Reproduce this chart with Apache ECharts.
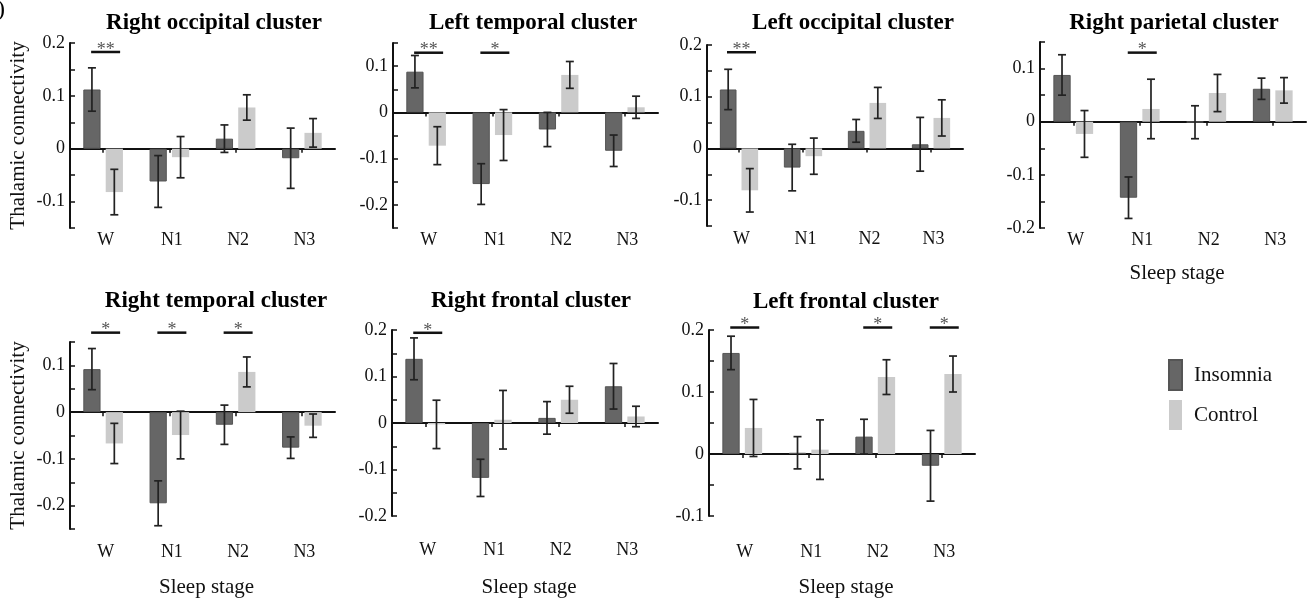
<!DOCTYPE html>
<html>
<head>
<meta charset="utf-8">
<script src="https://cdn.jsdelivr.net/npm/echarts@6/dist/echarts.min.js"></script>
<style>html,body{margin:0;padding:0;background:#fff}#c{width:1311px;height:599px}</style>
</head>
<body>
<div id="c"></div>
<script>
const categories = ['W', 'N1', 'N2', 'N3'];
const panelTitles = ['Right occipital cluster', 'Left temporal cluster', 'Left occipital cluster', 'Right parietal cluster',
  'Right temporal cluster', 'Right frontal cluster', 'Left frontal cluster'];
const seriesNames = ['Insomnia', 'Control'];
const insomniaMean = [
  [0.112, -0.062, 0.019, -0.018],
  [0.088, -0.155, -0.037, -0.083],
  [0.114, -0.037, 0.034, 0.008],
  [0.088, -0.143, -0.001, 0.062],
  [0.092, -0.195, -0.027, -0.076],
  [0.138, -0.118, 0.011, 0.079],
  [0.163, 0.002, 0.028, -0.019]
];
const insomniaErr = [
  [0.041, 0.049, 0.026, 0.057],
  [0.035, 0.044, 0.037, 0.034],
  [0.039, 0.045, 0.022, 0.052],
  [0.038, 0.039, 0.031, 0.020],
  [0.044, 0.048, 0.042, 0.023],
  [0.045, 0.040, 0.035, 0.049],
  [0.027, 0.026, 0.028, 0.057]
];
const controlMean = [
  [-0.082, -0.016, 0.078, 0.030],
  [-0.072, -0.049, 0.081, 0.011],
  [-0.081, -0.015, 0.088, 0.059],
  [-0.023, 0.024, 0.054, 0.059],
  [-0.067, -0.049, 0.086, -0.029],
  [-0.003, 0.007, 0.050, 0.014],
  [0.042, 0.007, 0.124, 0.129]
];
const controlErr = [
  [0.043, 0.039, 0.024, 0.027],
  [0.041, 0.055, 0.029, 0.024],
  [0.042, 0.035, 0.030, 0.035],
  [0.044, 0.056, 0.035, 0.024],
  [0.043, 0.051, 0.032, 0.025],
  [0.052, 0.063, 0.029, 0.022],
  [0.046, 0.048, 0.028, 0.029]
];
const yMin = [-0.15, -0.25, -0.15, -0.2, -0.25, -0.2, -0.1];
const yMax = [0.2, 0.15, 0.2, 0.15, 0.15, 0.2, 0.2];
// significance markers: [panel, category index, label, value level]
const sigMarks = [
  [0, 0, '**', 0.183],
  [1, 0, '**', 0.129], [1, 1, '*', 0.129],
  [2, 0, '**', 0.186],
  [3, 1, '*', 0.130],
  [4, 0, '*', 0.170], [4, 1, '*', 0.170], [4, 2, '*', 0.170],
  [5, 0, '*', 0.194],
  [6, 0, '*', 0.204], [6, 2, '*', 0.204], [6, 3, '*', 0.204]
];
const yAxisTitle = 'Thalamic connectivity';
const xAxisTitle = 'Sleep stage';

// layout (pixels)
const layout = [
  {left: 70, top: 43, width: 265, height: 185, lm: 3, yName: true, xName: false, tx: 214, ty: 23},
  {left: 393, top: 43, width: 265, height: 185, lm: 3, yName: false, xName: false, tx: 533, ty: 23},
  {left: 707, top: 45, width: 256, height: 181, lm: 4, yName: false, xName: false, tx: 853, ty: 23},
  {left: 1040, top: 42, width: 266, height: 186, lm: 3, yName: false, xName: true, ng: 35, tx: 1174, ty: 23},
  {left: 70, top: 342, width: 265, height: 187, lm: 14, yName: true, xName: true, ng: 48, tx: 216, ty: 301},
  {left: 392, top: 330, width: 266, height: 186, lm: 25, yName: false, xName: true, ng: 61, tx: 531, ty: 301},
  {left: 709, top: 330, width: 266, height: 186, lm: 27, yName: false, xName: true, ng: 61, tx: 846, ty: 302}
];

const FONT = '"Liberation Serif", "Times New Roman", serif';
const DARK = '#666666';
const LIGHT = '#cbcbcb';
const BAR_OFF = 0.169;

function yFmt(v) {
  const r = Math.round(v * 100);
  if (r % 10 !== 0) return '';
  return String(r / 100 === 0 ? 0 : r / 100);
}

function errRender(sign) {
  return function (params, api) {
    const i = api.value(0), m = api.value(1), e = api.value(2);
    const bw = api.size([1, 0])[0];
    const x = api.coord([i, m])[0] + sign * bw * BAR_OFF;
    const top = api.coord([i, m + e])[1];
    const bot = api.coord([i, m - e])[1];
    const cap = 4;
    const st = {stroke: '#222', lineWidth: 1.7};
    return {
      type: 'group', children: [
        {type: 'line', shape: {x1: x, y1: top, x2: x, y2: bot}, style: st},
        {type: 'line', shape: {x1: x - cap, y1: top, x2: x + cap, y2: top}, style: st},
        {type: 'line', shape: {x1: x - cap, y1: bot, x2: x + cap, y2: bot}, style: st}
      ]
    };
  };
}

function sigRender(params, api) {
  const i = api.value(0), y = api.value(1);
  const p = api.coord([i, y]);
  const x0 = p[0] - 12, x1 = p[0] + 17;
  return {
    type: 'group', children: [
      {type: 'line', shape: {x1: x0, y1: p[1], x2: x1, y2: p[1]}, style: {stroke: '#111', lineWidth: 2.5}},
      {type: 'text', x: (x0 + x1) / 2, y: p[1] + 7,
        style: {text: api.value(2), font: '18px ' + FONT, fill: '#555', align: 'center', verticalAlign: 'bottom'}}
    ]
  };
}

const grids = [], xAxes = [], yAxes = [], series = [], graphics = [];
layout.forEach((L, p) => {
  grids.push({left: L.left, top: L.top, width: L.width, height: L.height, containLabel: false});
  xAxes.push({
    type: 'category', gridIndex: p, data: categories, position: 'bottom',
    axisLine: {show: false, onZero: false}, axisTick: {show: false},
    axisLabel: {margin: L.lm, fontSize: 18, fontFamily: FONT, color: '#111', padding: [0, 0, 0, 5]},
    name: L.xName ? xAxisTitle : '', nameLocation: 'middle', nameGap: L.ng || 30,
    nameTextStyle: {fontSize: 21, fontFamily: FONT, color: '#111', padding: [0, 0, 0, 8]}
  });
  xAxes.push({
    type: 'category', gridIndex: p, data: categories, position: 'bottom',
    axisLine: {show: true, onZero: true, onZeroAxisIndex: p, lineStyle: {color: '#111', width: 2}},
    axisTick: {show: true, alignWithLabel: true, length: 4, lineStyle: {color: '#111', width: 1.5}},
    axisLabel: {show: false}
  });
  yAxes.push({
    type: 'value', gridIndex: p, min: yMin[p], max: yMax[p], interval: 0.05,
    axisLine: {show: true, lineStyle: {color: '#111', width: 2}},
    axisTick: {show: true, inside: true, length: 5, lineStyle: {color: '#111', width: 1.5}},
    splitLine: {show: false},
    axisLabel: {formatter: yFmt, fontSize: 18, fontFamily: FONT, color: '#111', margin: 5},
    name: L.yName ? yAxisTitle : '', nameLocation: 'middle', nameGap: 41,
    nameTextStyle: {fontSize: 21, fontFamily: FONT, color: '#111'}
  });
  series.push({
    name: seriesNames[0], type: 'bar', xAxisIndex: 2 * p, yAxisIndex: p,
    data: insomniaMean[p], barWidth: '26%', barGap: '30%',
    itemStyle: {color: DARK, borderColor: '#555', borderWidth: 1}
  });
  series.push({
    name: seriesNames[1], type: 'bar', xAxisIndex: 2 * p, yAxisIndex: p,
    data: controlMean[p], barWidth: '26%', barGap: '30%',
    itemStyle: {color: LIGHT}
  });
  series.push({
    name: 'errI' + p, type: 'custom', xAxisIndex: 2 * p, yAxisIndex: p, z: 5,
    renderItem: errRender(-1), encode: {x: 0, y: 1},
    data: categories.map((c, i) => [i, insomniaMean[p][i], insomniaErr[p][i]])
  });
  series.push({
    name: 'errC' + p, type: 'custom', xAxisIndex: 2 * p, yAxisIndex: p, z: 5,
    renderItem: errRender(1), encode: {x: 0, y: 1},
    data: categories.map((c, i) => [i, controlMean[p][i], controlErr[p][i]])
  });
  const sig = sigMarks.filter(s => s[0] === p).map(s => [s[1], s[3], s[2]]);
  if (sig.length) {
    series.push({
      name: 'sig' + p, type: 'custom', xAxisIndex: 2 * p, yAxisIndex: p, z: 6, clip: false,
      renderItem: sigRender, encode: {x: 0, y: 1},
      dimensions: ['x', 'y', {name: 'label', type: 'ordinal'}],
      data: sig
    });
  }
  graphics.push({
    type: 'text', x: L.tx, y: L.ty,
    style: {text: panelTitles[p], font: 'bold 23px ' + FONT, fill: '#000', align: 'center', verticalAlign: 'middle'}
  });
});
graphics.push({type: 'text', x: -3, y: 10, style: {text: ')', font: '24px ' + FONT, fill: '#000', verticalAlign: 'middle'}});

const chart = echarts.init(document.getElementById('c'), null, {renderer: 'canvas'});
chart.setOption({
  animation: false,
  backgroundColor: '#fff',
  grid: grids, xAxis: xAxes, yAxis: yAxes, series: series, graphic: graphics,
  legend: {
    data: seriesNames, orient: 'vertical', left: 1163, top: 354, icon: 'rect',
    itemWidth: 13, itemHeight: 30, itemGap: 9, selectedMode: false,
    textStyle: {fontSize: 21, fontFamily: FONT, color: '#111', padding: [0, 0, 0, 7]}
  }
});
</script>
</body>
</html>
